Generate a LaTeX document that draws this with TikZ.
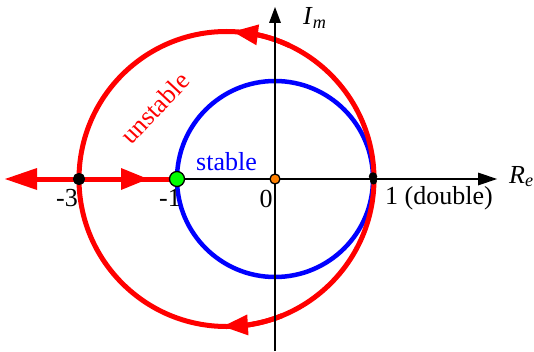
\documentclass[tikz,border=0pt]{standalone}
\usepackage{fontspec}
\setmainfont{Liberation Serif}
\usetikzlibrary{arrows.meta,bending,calc}
\begin{document}
\begin{tikzpicture}[x=1pt,y=1pt,
  lbl/.style={inner sep=0pt,font=\fontsize{26}{30}\selectfont},
  redline/.style={draw=red,line width=5pt},
  axis/.style={draw=black,line width=1.8pt},
  bigtip/.style={-{Triangle[length=#1,width=22pt,line width=0pt]}},
  arctip/.style={-{Triangle[length=25pt,width=21pt,line width=0pt]}},
  dot/.style={circle,draw=black,line width=1.3pt,inner sep=0pt,minimum size=#1}
]
\useasboundingbox (0,0) rectangle (534,351);
% key coordinates
\coordinate (O) at (275,172);
\coordinate (C) at (226.5,172);
\coordinate (m3) at (79,172);
\coordinate (m1) at (177,172);
\coordinate (p1) at (374,172);
\coordinate (xend) at (497,172);
\coordinate (ybot) at (275,0);
\coordinate (yend) at (275,344);
\coordinate (lend) at (5,172);
\coordinate (rtip) at (148,172);
% circles
\draw[blue,line width=4.5pt] (O) circle[radius=98];
\draw[red,line width=5pt] (C) circle[radius=147.5];
% arrows on red circle
\draw[red,line width=5pt,arctip] ($(C)+(65:147.5)$) arc[start angle=65,end angle=87.5,radius=147.5];
\draw[red,line width=5pt,arctip] ($(C)+(292:147.5)$) arc[start angle=292,end angle=268.6,radius=147.5];
% axes
\draw[axis,-{Triangle[length=19pt,width=13pt,line width=0pt]}] (m1) -- (xend);
\draw[axis,-{Triangle[length=16pt,width=12pt,line width=0pt]}] (ybot) -- (yend);
% red root locus on the real axis
\draw[redline] (m3) -- (m1);
\draw[redline,bigtip=32pt] (m3) -- (lend);
\draw[redline,bigtip=27pt] (m3) -- (rtip);
% dots
\node[dot=11pt,fill=black] (d3) at (m3) {};
\node[dot=15pt,fill=green] (d1) at (m1) {};
\node[dot=10pt,fill=orange] (d0) at (O) {};
\node[circle,fill=black,inner sep=0pt,minimum size=8.5pt] (dp1) at (373,174.5) {};
\node[circle,fill=black,inner sep=0pt,minimum size=7pt] (dp2) at (373.5,170) {};
% labels
\node[lbl] (t3) at (67,153) {-3};
\node[lbl] (t1) at (170,153) {-1};
\node[lbl] (t0) at (266,152) {0};
\node[lbl,anchor=base west] (tdb) at (385,147) {1 (double)};
\node[lbl,anchor=base west] (tre) at (509,168) {\textit{R}\textsubscript{\textit{e}}};
\node[lbl,anchor=base west] (tim) at (303,326) {\textit{I}\textsubscript{\textit{m}}};
\node[lbl,anchor=base west,text=blue] (tst) at (196,181) {stable};
\node[lbl,text=red,rotate=47] (tun) at (155,243) {unstable};
\end{tikzpicture}
\end{document}
